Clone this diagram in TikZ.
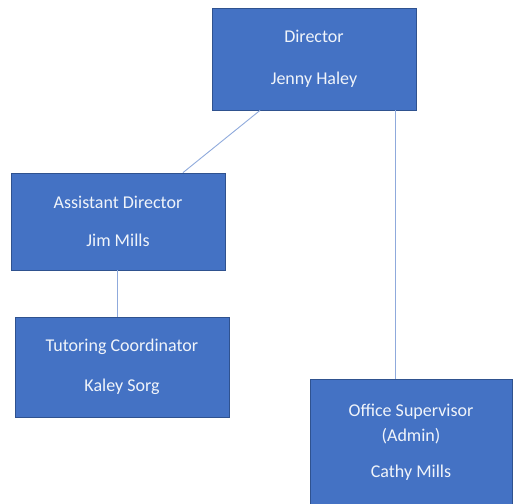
\documentclass[tikz,border=0pt]{standalone}
\usepackage{fontspec}
\setmainfont{Carlito}
\usepackage{tikz}
\definecolor{unitfill}{HTML}{4472C4}
\definecolor{unitline}{HTML}{2F528F}
\definecolor{linkline}{HTML}{8FAADC}
\tikzset{
    normal/.style={draw=unitline, line width=0.8pt},
    unit/.style={style=normal, rectangle, fill=unitfill, text=white!92!unitfill, align=center, inner sep=0pt,
        font=\fontsize{18}{25}\selectfont}, % boxes of the chart
    te/.style={draw=linkline, line width=0.9pt} % edges between boxes
}

\begin{document}
\begin{tikzpicture}[x=1pt, y=-1pt]
        \useasboundingbox (0, 0) rectangle (518, 503);

        \node[unit, minimum width=204pt, minimum height=102pt] (dir) at (314, 59) {Director\\[17pt]Jenny Haley};
        \node[unit, minimum width=214pt, minimum height=97pt] (asst) at (118, 221.5) {Assistant Director\\[13pt]Jim Mills};
        \node[unit, minimum width=214pt, minimum height=100pt] (tut) at (122, 367) {Tutoring Coordinator\\[15pt]Kaley Sorg};
        \node[unit, minimum width=202pt, minimum height=126pt] (off) at (411, 442) {Office Supervisor\\(Admin)\\[11pt]Cathy Mills};

        \draw[te] ([xshift=-54pt]dir.south) to ([xshift=65pt]asst.north);
        \draw[te] ([xshift=81pt]dir.south) to ([xshift=81pt]dir.south |- off.north);
        \draw[te] ([xshift=-1pt]asst.south) to ([xshift=-1pt]asst.south |- tut.north);
      \end{tikzpicture}
\end{document}
